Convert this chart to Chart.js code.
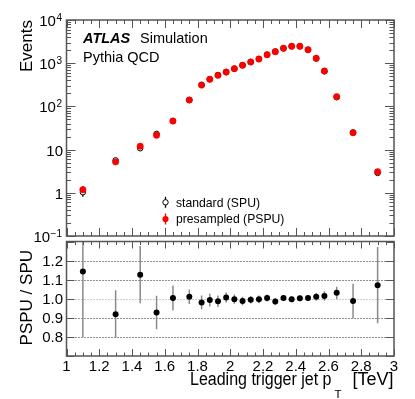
<!DOCTYPE html>
<html><head><meta charset="utf-8">
<script src="https://cdn.jsdelivr.net/npm/chart.js@4.4.1/dist/chart.umd.min.js"></script>
<style>
html,body{margin:0;padding:0;background:#fff;}
#wrap{position:relative;width:415px;height:399px;overflow:hidden;}
canvas{position:absolute;left:0;top:0;}
</style></head><body>
<div id="wrap"><canvas id="topc" width="415" height="399"></canvas><canvas id="botc" width="415" height="399"></canvas></div>
<script>
// ---------------- data ----------------
const ptBins = [1.1,1.3,1.45,1.55,1.65,1.75,1.825,1.875,1.925,1.975,2.025,2.075,2.125,2.175,2.225,2.275,2.325,2.375,2.425,2.475,2.525,2.575,2.65,2.75,2.9];
const pspuEvents = [1.18,5.2,12.0,21.5,46,141,311,424,525,625,747,893,1067,1250,1575,1845,2212,2460,2460,2055,1297,659,168,24.6,3.07];
const spuEvents  = [1.03,5.66,10.7,23.2,45.8,140,316,425,530,620,748,902,1070,1252,1570,1868,2203,2465,2455,2047,1285,650,163,24.9,2.87];
const pspuErr = [0.25,0.6,1.0,1.4,2.0,0,0,0,0,0,0,0,0,0,0,0,0,0,0,0,0,0,0,0,0];
const spuErr  = [0.22,0.6,0.9,1.5,2.0,0,0,0,0,0,0,0,0,0,0,0,0,0,0,0,0,0,0,0,0];
const ratioVals = [1.143,0.919,1.126,0.928,1.004,1.01,0.981,0.993,0.987,1.007,0.998,0.988,0.995,0.997,1.004,0.985,1.004,0.997,1.002,1.004,1.01,1.014,1.031,0.988,1.071];
const ratioErr  = [0.343,0.125,0.15,0.088,0.066,0.038,0.036,0.033,0.03,0.026,0.024,0.022,0.02,0.02,0.018,0.018,0.016,0.015,0.015,0.016,0.02,0.025,0.032,0.09,0.2];
const xTickVals = [1,1.2,1.4,1.6,1.8,2,2.2,2.4,2.6,2.8,3];
const xTickLabels = ['1','1.2','1.4','1.6','1.8','2','2.2','2.4','2.6','2.8','3'];
const logTickVals = [0.1,1,10,100,1000,10000];
const logTickBase = ['10','1','10','10','10','10'];
const logTickExp  = ['\u22121','','','2','3','4'];
const ratioTickVals = [0.8,0.9,1.0,1.1,1.2];
const ratioTickLabels = ['0.8','0.9','1.0','1.1','1.2'];
const legendLabels = ['standard (SPU)','presampled (PSPU)'];

// ---------------- style ----------------
const FONT = '"Liberation Sans", Arial, Helvetica, sans-serif';
const FRAME = '#555';
const RED = '#ff0000';

function font(sz, w, st){ return (st||'') + ' ' + (w||'') + ' ' + sz + 'px ' + FONT; }
// draw text from x with given target width (horizontal squeeze to mimic the reference face)
function fitText(ctx, txt, x, y, targetW){
  const w = ctx.measureText(txt).width;
  ctx.save(); ctx.translate(x, y); ctx.scale(targetW / w, 1); ctx.textAlign = 'left';
  ctx.fillText(txt, 0, 0); ctx.restore();
}

function drawXTicksEdges(ctx, xs, a, maj, min){
  ctx.strokeStyle = FRAME; ctx.lineWidth = 1;
  ctx.beginPath();
  for (let i = 0; i <= 40; i++){
    const v = 1 + i*0.05;
    const px = Math.round(xs.getPixelForValue(v)) + 0.5;
    const len = (i % 4 === 0) ? maj : min;
    ctx.moveTo(px, a.bottom); ctx.lineTo(px, a.bottom - len);
    ctx.moveTo(px, a.top); ctx.lineTo(px, a.top + len);
  }
  ctx.stroke();
}
function drawFrame(ctx, a){
  ctx.strokeStyle = FRAME; ctx.lineWidth = 1.5;
  ctx.strokeRect(a.left, a.top, a.right - a.left, a.bottom - a.top);
}
function yTick(ctx, a, py, len){
  ctx.moveTo(a.left, py); ctx.lineTo(a.left + len, py);
  ctx.moveTo(a.right, py); ctx.lineTo(a.right - len, py);
}

const topPlugin = {
  id: 'topDeco',
  beforeDatasetsDraw(chart){
    const ctx = chart.ctx, a = chart.chartArea, xs = chart.scales.x, ys = chart.scales.y;
    ctx.save();
    ctx.beginPath(); ctx.rect(a.left, a.top, a.right - a.left, a.bottom - a.top); ctx.clip();
    ctx.lineWidth = 1.3;
    ptBins.forEach((x, i) => {
      const px = xs.getPixelForValue(x);
      if (spuErr[i] > 0){
        ctx.strokeStyle = '#000'; ctx.beginPath();
        ctx.moveTo(px, ys.getPixelForValue(spuEvents[i] - spuErr[i]));
        ctx.lineTo(px, ys.getPixelForValue(spuEvents[i] + spuErr[i])); ctx.stroke();
      }
      if (pspuErr[i] > 0){
        ctx.strokeStyle = RED; ctx.beginPath();
        ctx.moveTo(px, ys.getPixelForValue(pspuEvents[i] - pspuErr[i]));
        ctx.lineTo(px, ys.getPixelForValue(pspuEvents[i] + pspuErr[i])); ctx.stroke();
      }
    });
    ctx.restore();
  },
  afterDraw(chart){
    const ctx = chart.ctx, a = chart.chartArea, xs = chart.scales.x, ys = chart.scales.y;
    ctx.save();
    drawFrame(ctx, a);
    drawXTicksEdges(ctx, xs, a, 8, 4);
    // log y ticks
    ctx.strokeStyle = FRAME; ctx.lineWidth = 1; ctx.beginPath();
    for (let e = -1; e < 4; e++){
      for (let m = 1; m <= 9; m++){
        const v = m * Math.pow(10, e);
        const py = Math.round(ys.getPixelForValue(v)) + 0.5;
        yTick(ctx, a, py, m === 1 ? 9 : 4.5);
      }
    }
    yTick(ctx, a, Math.round(ys.getPixelForValue(10000)) + 0.5, 9);
    ctx.stroke();
    // y tick labels
    ctx.fillStyle = '#000'; ctx.textBaseline = 'alphabetic'; ctx.textAlign = 'left';
    logTickVals.forEach((v, i) => {
      const py = ys.getPixelForValue(v);
      ctx.font = font(15);
      const bw = ctx.measureText(logTickBase[i]).width;
      ctx.font = font(10);
      const ew = logTickExp[i] ? ctx.measureText(logTickExp[i]).width : 0;
      const right = logTickExp[i] ? 61.5 : 63;
      const x0 = right - bw - ew;
      ctx.font = font(15);
      ctx.fillText(logTickBase[i], x0, py + 6);
      if (logTickExp[i]){ ctx.font = font(10); ctx.fillText(logTickExp[i], x0 + bw + 0.5, py + 0.5); }
    });
    // axis title
    ctx.save();
    ctx.translate(31.5, 20); ctx.rotate(-Math.PI/2);
    ctx.font = font(17); ctx.textAlign = 'right'; ctx.fillText('Events', 0, 0);
    ctx.restore();
    // ATLAS label
    ctx.textAlign = 'left';
    ctx.font = font(14.5, 'bold', 'italic'); ctx.fillText('ATLAS', 83, 43.3);
    ctx.font = font(14.5); ctx.fillText('Simulation', 140, 43.3);
    ctx.fillText('Pythia QCD', 83, 62);
    // legend
    const lx = 165.5;
    const ly = [202.3, 219];
    ctx.lineWidth = 1.3;
    ctx.strokeStyle = '#000'; ctx.beginPath(); ctx.moveTo(lx, ly[0] - 5.5); ctx.lineTo(lx, ly[0] + 5.5); ctx.stroke();
    ctx.fillStyle = '#fff'; ctx.beginPath(); ctx.arc(lx, ly[0], 2.7, 0, Math.PI*2); ctx.fill(); ctx.lineWidth = 1; ctx.stroke();
    ctx.lineWidth = 1.3;
    ctx.strokeStyle = RED; ctx.beginPath(); ctx.moveTo(lx, ly[1] - 5.5); ctx.lineTo(lx, ly[1] + 5.5); ctx.stroke();
    ctx.fillStyle = RED; ctx.beginPath(); ctx.arc(lx, ly[1], 3.1, 0, Math.PI*2); ctx.fill();
    ctx.fillStyle = '#000'; ctx.font = font(12.2);
    ctx.fillText(legendLabels[0], 176, ly[0] + 4.4);
    ctx.fillText(legendLabels[1], 176, ly[1] + 4.4);
    ctx.restore();
  }
};

const botPlugin = {
  id: 'botDeco',
  beforeDatasetsDraw(chart){
    const ctx = chart.ctx, a = chart.chartArea, xs = chart.scales.x, ys = chart.scales.y;
    ctx.save();
    // dotted grid
    ctx.lineWidth = 1;
    ratioTickVals.forEach(v => {
      const py = Math.round(ys.getPixelForValue(v)) + 0.5;
      ctx.strokeStyle = (v === 1.0) ? '#999' : '#222';
      ctx.setLineDash([1, 2]);
      ctx.beginPath(); ctx.moveTo(a.left, py); ctx.lineTo(a.right, py); ctx.stroke();
    });
    ctx.setLineDash([]);
    ctx.beginPath(); ctx.rect(a.left, a.top, a.right - a.left, a.bottom - a.top); ctx.clip();
    ctx.strokeStyle = '#8a8a8a'; ctx.lineWidth = 1.5;
    ptBins.forEach((x, i) => {
      const px = xs.getPixelForValue(x);
      ctx.beginPath();
      ctx.moveTo(px, ys.getPixelForValue(ratioVals[i] - ratioErr[i]));
      ctx.lineTo(px, ys.getPixelForValue(ratioVals[i] + ratioErr[i]));
      ctx.stroke();
    });
    ctx.restore();
  },
  afterDraw(chart){
    const ctx = chart.ctx, a = chart.chartArea, xs = chart.scales.x, ys = chart.scales.y;
    ctx.save();
    drawFrame(ctx, a);
    drawXTicksEdges(ctx, xs, a, 7, 3.5);
    ctx.strokeStyle = FRAME; ctx.lineWidth = 1; ctx.beginPath();
    for (let i = 0; i <= 6; i++){
      const v = 0.7 + i*0.1;
      yTick(ctx, a, Math.round(ys.getPixelForValue(v)) + 0.5, 8);
    }
    ctx.stroke();
    ctx.fillStyle = '#000';
    ctx.font = font(15);
    ctx.textAlign = 'right';
    ratioTickVals.forEach((v, i) => {
      ctx.fillText(ratioTickLabels[i], 63, ys.getPixelForValue(v) + 5.3);
    });
    ctx.textAlign = 'center';
    xTickVals.forEach((v, i) => {
      ctx.fillText(xTickLabels[i], xs.getPixelForValue(v), 370.5);
    });
    // y title
    ctx.save();
    ctx.translate(31.5, 250); ctx.rotate(-Math.PI/2);
    ctx.font = font(17); ctx.textAlign = 'right'; ctx.fillText('PSPU / SPU', 0, 0);
    ctx.restore();
    // x title with subscript
    ctx.font = font(18);
    fitText(ctx, 'Leading trigger jet p', 190, 385, 141.5);
    ctx.textAlign = 'right';
    ctx.fillText('[TeV]', 393.5, 385);
    ctx.font = font(11.5);
    ctx.textAlign = 'left';
    ctx.fillText('T', 334.5, 397.5);
    ctx.restore();
  }
};

const common = {
  responsive: false, animation: false, devicePixelRatio: 1, events: [],
  plugins: { legend: { display: false }, tooltip: { enabled: false } }
};

new Chart(document.getElementById('topc'), {
  type: 'scatter',
  data: { datasets: [
    { label: legendLabels[1], data: ptBins.map((x, i) => ({ x, y: pspuEvents[i] })),
      pointRadius: 3.2, pointBackgroundColor: RED, pointBorderColor: '#e00000', pointBorderWidth: 0.5, order: 0 },
    { label: legendLabels[0], data: ptBins.map((x, i) => ({ x, y: spuEvents[i] })),
      pointRadius: 2.7, pointBackgroundColor: '#fff', pointBorderColor: '#000', pointBorderWidth: 1, order: 1 }
  ]},
  options: Object.assign({}, common, {
    layout: { padding: { left: 66.5, right: 21, top: 20, bottom: 163 } },
    scales: {
      x: { type: 'linear', min: 1, max: 3, display: false },
      y: { type: 'logarithmic', min: 0.1, max: 10000, display: false }
    }
  }),
  plugins: [topPlugin]
});

new Chart(document.getElementById('botc'), {
  type: 'scatter',
  data: { datasets: [
    { label: 'PSPU / SPU', data: ptBins.map((x, i) => ({ x, y: ratioVals[i] })),
      pointRadius: 3, pointBackgroundColor: '#000', pointBorderColor: '#000', pointBorderWidth: 0 }
  ]},
  options: Object.assign({}, common, {
    layout: { padding: { left: 66.5, right: 21, top: 241.5, bottom: 43 } },
    scales: {
      x: { type: 'linear', min: 1, max: 3, display: false },
      y: { type: 'linear', min: 0.7, max: 1.3, display: false }
    }
  }),
  plugins: [botPlugin]
});
</script>
</body></html>
